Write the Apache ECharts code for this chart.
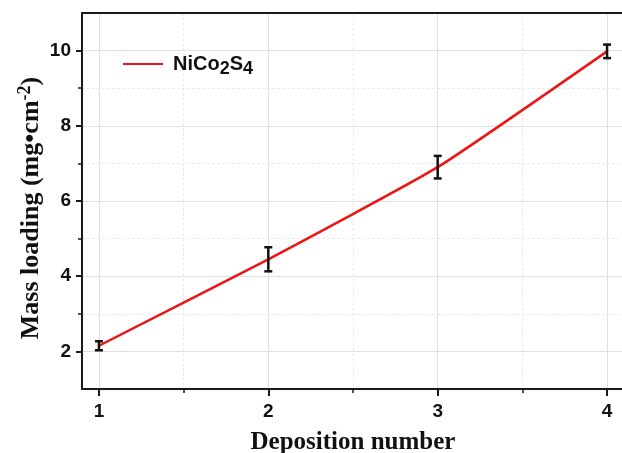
<!DOCTYPE html>
<html><head><meta charset="utf-8">
<script src="https://cdn.jsdelivr.net/npm/echarts@6/dist/echarts.min.js"></script>
<style>html,body{margin:0;padding:0;background:#fff}#c{width:622px;height:453px}</style>
</head><body><div id="c"></div>
<script>
const depositionNumbers = [1, 2, 3, 4];
const massLoading = [2.15, 4.45, 6.9, 9.98];
const errorValues = [0.12, 0.32, 0.3, 0.18];
const yMajorTicks = [2, 4, 6, 8, 10];
const yMinorTicks = [3, 5, 7, 9];
const xMajorTicks = [1, 2, 3, 4];
const xMinorTicks = [1.5, 2.5, 3.5];

const chart = echarts.init(document.getElementById('c'), null, {renderer: 'canvas'});
const axisColor = '#1a1a1a';
const lineData = depositionNumbers.map((x, i) => [x, massLoading[i]]);
const errData = depositionNumbers.map((x, i) => [x, massLoading[i] - errorValues[i], massLoading[i] + errorValues[i]]);
const labelFont = {fontFamily: 'Liberation Sans, Arial', fontWeight: 'bold', fontSize: 19, color: '#111'};
const titleFont = {fontFamily: 'Liberation Serif, Times New Roman', fontWeight: 'bold', fontSize: 25, color: '#111'};

chart.setOption({
  animation: false,
  grid: {left: 82, right: -2, top: 13, bottom: 64, containLabel: false, outerBoundsMode: 'none'},
  legend: {
    left: 118, top: 49, itemWidth: 40, itemHeight: 10, itemGap: 10,
    data: [{name: 'NiCo2S4', icon: 'path://M0,4 L40,4 L40,6.2 L0,6.2 Z'}],
    formatter: () => 'NiCo{s|2}S{s|4}',
    textStyle: Object.assign({}, labelFont, {fontSize: 20, padding: [0, 0, 0, 5],
      rich: {s: Object.assign({}, labelFont, {fontSize: 18, padding: [11, 0, 0, 0]})}
    })
  },
  xAxis: [{
    type: 'value', min: 0.9, max: 4.1,
    name: 'Deposition number', nameLocation: 'middle', nameGap: 41, nameMoveOverlap: false,
    nameTextStyle: titleFont,
    axisLine: {lineStyle: {color: axisColor, width: 2}},
    axisTick: {customValues: xMajorTicks, length: 7, lineStyle: {color: axisColor, width: 2}},
    axisLabel: Object.assign({customValues: xMajorTicks, margin: 13}, labelFont),
    splitLine: {show: true, customValues: xMajorTicks, lineStyle: {color: '#e0e0e0', width: 1}}
  }, {
    type: 'value', min: 0.9, max: 4.1, position: 'bottom',
    axisLine: {show: false},
    axisTick: {show: true, customValues: xMinorTicks, length: 4, lineStyle: {color: axisColor, width: 1.5}},
    axisLabel: {show: false, customValues: xMinorTicks},
    splitLine: {show: true, customValues: xMinorTicks, lineStyle: {color: '#e9e9e9', width: 1, type: [3, 2]}}
  }, {
    type: 'value', min: 0.9, max: 4.1, position: 'top',
    axisLine: {show: true, lineStyle: {color: axisColor, width: 2}},
    axisTick: {show: false}, axisLabel: {show: false}, splitLine: {show: false}
  }],
  yAxis: [{
    type: 'value', min: 1, max: 11,
    name: 'Mass loading (mg•cm{sup|-2})', nameLocation: 'middle', nameGap: 36, nameRotate: 90, nameMoveOverlap: false,
    nameTextStyle: Object.assign({}, titleFont, {fontSize: 26, padding: [0, 14, 0, 0],
      rich: {sup: Object.assign({}, titleFont, {fontSize: 18, padding: [0, 0, 12, 0]})}}),
    axisLine: {show: true, lineStyle: {color: axisColor, width: 2}},
    axisTick: {customValues: yMajorTicks, length: 6, lineStyle: {color: axisColor, width: 2}},
    axisLabel: Object.assign({customValues: yMajorTicks, margin: 11}, labelFont),
    splitLine: {show: true, customValues: yMajorTicks, lineStyle: {color: '#e0e0e0', width: 1}}
  }, {
    type: 'value', min: 1, max: 11, position: 'left',
    axisLine: {show: false},
    axisTick: {show: true, customValues: yMinorTicks, length: 4, lineStyle: {color: axisColor, width: 1.5}},
    axisLabel: {show: false, customValues: yMinorTicks},
    splitLine: {show: true, customValues: yMinorTicks, lineStyle: {color: '#e9e9e9', width: 1, type: [3, 2]}}
  }],
  series: [{
    type: 'line', name: 'NiCo2S4', data: lineData, smooth: 0.15, symbol: 'none',
    lineStyle: {color: '#ec1515', width: 2.5}, itemStyle: {color: '#ec1515'}, z: 3
  }, {
    type: 'custom', name: 'err', data: errData, z: 4,
    renderItem: (params, api) => {
      const x = api.value(0);
      const lo = api.coord([x, api.value(1)]);
      const hi = api.coord([x, api.value(2)]);
      const w = 4;
      const st = {stroke: '#111', lineWidth: 2.5};
      return {type: 'group', children: [
        {type: 'line', shape: {x1: lo[0], y1: lo[1], x2: hi[0], y2: hi[1]}, style: st},
        {type: 'line', shape: {x1: lo[0] - w, y1: lo[1], x2: lo[0] + w, y2: lo[1]}, style: st},
        {type: 'line', shape: {x1: hi[0] - w, y1: hi[1], x2: hi[0] + w, y2: hi[1]}, style: st}
      ]};
    }
  }]
});
</script></body></html>
